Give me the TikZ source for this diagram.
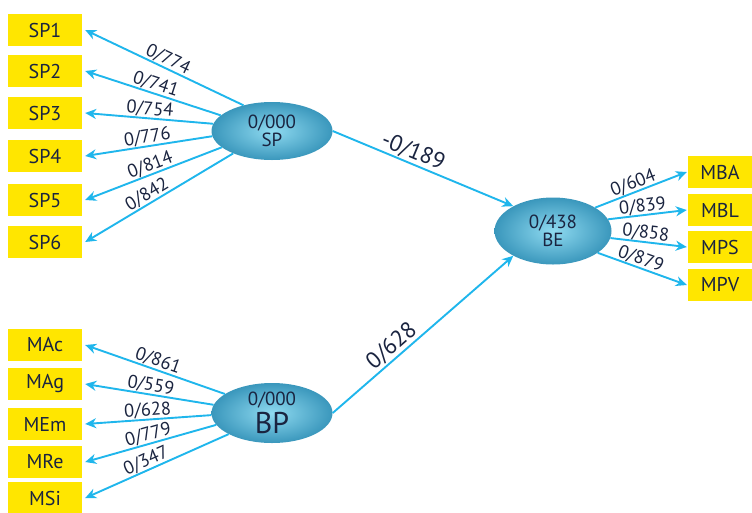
\documentclass[tikz,border=0pt]{standalone}
\usepackage{fontspec}
\setmainfont{PT Sans}
\usetikzlibrary{arrows.meta,shapes.geometric}
\definecolor{arr}{HTML}{1FB6EC}
\definecolor{boxc}{HTML}{FFE600}
\definecolor{ellin}{HTML}{8FDAF0}
\definecolor{ellout}{HTML}{3A97BC}
\definecolor{ink}{HTML}{1A2440}
\begin{document}
\begin{tikzpicture}[x=1pt,y=-1pt,
 ibox/.style={fill=boxc, minimum width=74pt, minimum height=32pt, inner sep=0pt, text=ink, font=\fontsize{20}{20}\selectfont},
 rbox/.style={ibox, minimum width=64pt},
 lv/.style={ellipse, inner color=ellin, outer color=ellout, minimum width=121pt, minimum height=58pt, inner sep=0pt, align=center, text=ink, font=\fontsize{19}{18}\selectfont},
 conn/.style={draw=arr, line width=1.9pt, -{Stealth[length=11pt,width=10pt,inset=3.5pt]}},
 lab/.style={sloped, above, text=ink, font=\fontsize{18.5}{18.5}\selectfont, inner sep=0pt},
 big/.style={sloped, above, text=ink, font=\fontsize{23}{23}\selectfont, inner sep=1pt}
]
\useasboundingbox (0,0) rectangle (752,512);
% left top boxes
\node[ibox] (SP1) at (45,30) {SP1};
\node[ibox] (SP2) at (45,71) {SP2};
\node[ibox] (SP3) at (45,113) {SP3};
\node[ibox] (SP4) at (45,156) {SP4};
\node[ibox] (SP5) at (45,200) {SP5};
\node[ibox] (SP6) at (45,242) {SP6};
% left bottom boxes
\node[ibox] (MAc) at (45,345) {MAc};
\node[ibox] (MAg) at (45,384) {MAg};
\node[ibox] (MEm) at (45,424) {MEm};
\node[ibox] (MRe) at (45,462) {MRe};
\node[ibox] (MSi) at (45,498) {MSi};
% right boxes
\node[rbox] (MBA) at (720,172) {MBA};
\node[rbox] (MBL) at (720,210) {MBL};
\node[rbox] (MPS) at (720,247) {MPS};
\node[rbox] (MPV) at (720,285) {MPV};
% latent variables
\node[lv] (SP) at (272,131) {0/000\\SP};
\node[lv, minimum width=117pt, minimum height=67pt] (BE) at (553,231) {0/438\\BE};
\node[lv, minimum height=60pt, font=\fontsize{19}{28}\selectfont] (BP) at (272,413) {0/000\\{\fontsize{30}{28}\selectfont BP}};
% SP indicators
\draw[conn] (SP.138) -- node[lab]{0/774} ([xshift=3pt]SP1.east);
\draw[conn] (SP.163) -- node[lab]{0/741} ([xshift=3pt]SP2.east);
\draw[conn] (SP.173) -- node[lab]{0/754} ([xshift=3pt]SP3.east);
\draw[conn] (SP.185) -- node[lab]{0/776} ([xshift=3pt]SP4.east);
\draw[conn] (SP.198) -- node[lab]{0/814} ([xshift=3pt]SP5.east);
\draw[conn] (SP.210) -- node[lab, pos=0.55]{0/842} ([xshift=3pt]SP6.east);
% BP indicators
\draw[conn] (BP.158) -- node[lab]{0/861} ([xshift=3pt]MAc.east);
\draw[conn] (BP.172) -- node[lab]{0/559} ([xshift=3pt]MAg.east);
\draw[conn] (BP.182) -- node[lab]{0/628} ([xshift=3pt]MEm.east);
\draw[conn] (BP.192) -- node[lab]{0/779} ([xshift=3pt]MRe.east);
\draw[conn] (BP.206) -- node[lab, pos=0.55]{0/347} ([xshift=3pt]MSi.east);
% BE indicators
\draw[conn] (BE.29) -- node[lab, pos=0.45]{0/604} ([xshift=-1pt]MBA.west);
\draw[conn] (BE.12) -- node[lab, pos=0.45]{0/839} ([xshift=-1pt]MBL.west);
\draw[conn] (BE.-7) -- node[lab, pos=0.45]{0/858} ([xshift=-1pt]MPS.west);
\draw[conn] (BE.-26) -- node[lab, pos=0.45]{0/879} ([xshift=-1pt]MPV.west);
% structural paths
\draw[conn] (SP.east) -- node[big, pos=0.42]{-0/189} (BE.148);
\draw[conn] (BP.east) -- node[big, pos=0.37]{0/628} (BE.212);
\end{tikzpicture}
\end{document}
